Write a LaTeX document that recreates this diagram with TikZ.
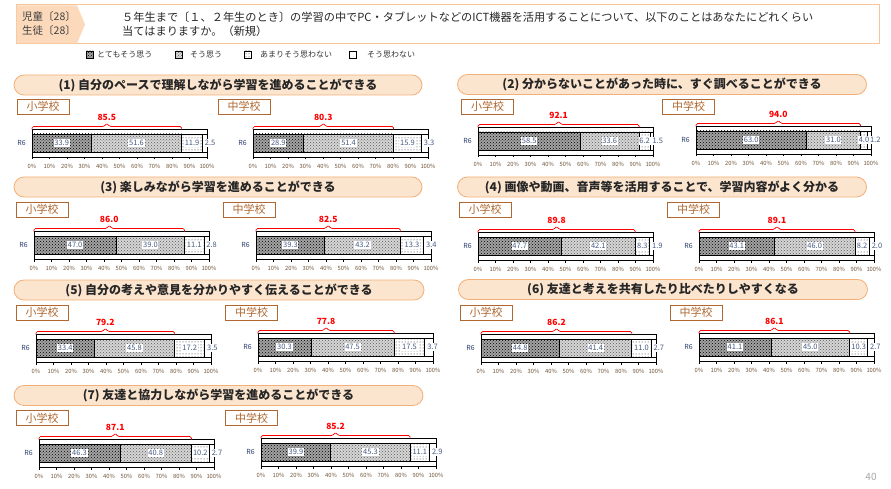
\documentclass[tikz,border=0pt]{standalone}
\usepackage{fontspec}
\setmainfont{Noto Sans CJK JP}
\usepackage{tikz}
\usetikzlibrary{patterns}
\definecolor{hdrFill}{RGB}{251,217,186}
\definecolor{hdrLine}{RGB}{248,196,150}
\definecolor{pillFill}{RGB}{252,229,206}
\definecolor{pillLine}{RGB}{243,175,120}
\definecolor{schoolBrown}{RGB}{176,104,48}
\definecolor{valBlue}{RGB}{70,90,130}
\definecolor{rowNavy}{RGB}{40,60,110}
\definecolor{axisBrown}{RGB}{110,82,55}
\definecolor{totalRed}{RGB}{255,0,0}
% one stacked bar: id, x0, y0, four shares, total of the first two
\newcommand{\ratebar}[8]{%
  \pgfmathsetmacro{\rbA}{#2+#4*1.75}
  \pgfmathsetmacro{\rbB}{#2+(#4+#5)*1.75}
  \pgfmathsetmacro{\rbC}{#2+(#4+#5+#6)*1.75}
  \pgfmathsetmacro{\rbM}{(#2+\rbB)/2}
  \pgfmathsetmacro{\rbE}{#2+175}
  \pgfmathsetmacro{\rbY}{#3+14}
  \draw[plotframe] (#2,#3) rectangle (\rbE,#3+28);
  \draw[segA] (#2,#3+5) rectangle (\rbA,#3+23);
  \draw[segB] (\rbA,#3+5) rectangle (\rbB,#3+23);
  \draw[segC] (\rbB,#3+5) rectangle (\rbC,#3+23);
  \draw[segD] (\rbC,#3+5) rectangle (\rbE,#3+23);
  \foreach \t in {0,...,10} {
    \pgfmathtruncatemacro{\pc}{\t*10}
    \draw[plotframe] (#2+\t*17.5,#3+28) -- ++(0,2.5);
    \node[axislbl] (#1-t\t) at (#2+\t*17.5,#3+37) {\pc\%};
  }
  \node[rowlbl] (#1-row) at (#2-10.5,\rbY) {R6};
  \node[vallbl] (#1-a) at ({(#2+\rbA)/2},\rbY) {#4};
  \node[vallbl] (#1-b) at ({(\rbA+\rbB)/2},\rbY) {#5};
  \node[vallbl] (#1-c) at ({(\rbB+\rbC)/2},\rbY) {#6};
  \node[vallbl, anchor=west] (#1-d) at (\rbC+1.5,\rbY) {#7};
  \draw[bracket] (#2,#3+0.5) -- (#2,#3-2.5) -- (\rbM-2.5,#3-2.5) -- (\rbM,#3-6)
    -- (\rbM+2.5,#3-2.5) -- (\rbB,#3-2.5) -- (\rbB,#3+0.5);
  \node[totallbl] (#1-tot) at (\rbM,#3-12) {#8};
}

\begin{document}
\begin{tikzpicture}[x=1pt, y=-1pt,
    plotframe/.style={draw=black, line width=0.6pt},
    segA/.style={line width=0.8pt, preaction={fill=gray!72}, pattern=crosshatch dots, pattern color=black},
    segB/.style={line width=0.8pt, preaction={fill=gray!32}, pattern=crosshatch dots, pattern color=black!65},
    segC/.style={line width=0.8pt, preaction={fill=white}, pattern=dots, pattern color=black!85},
    segD/.style={line width=0.8pt, fill=white},
    axislbl/.style={text=axisBrown, inner sep=0pt, font=\fontsize{5.8}{6}\selectfont},
    rowlbl/.style={text=rowNavy, inner sep=0pt, font=\fontsize{7}{8}\selectfont},
    vallbl/.style={text=valBlue, fill=white, inner sep=0.8pt, font=\fontsize{7.5}{8}\selectfont},
    totallbl/.style={text=totalRed, inner sep=0pt, font=\bfseries\fontsize{8.5}{9}\selectfont},
    bracket/.style={draw=totalRed, line width=0.7pt, rounded corners=1.5pt},
    pill/.style={draw=pillLine, fill=pillFill, line width=0.8pt, rounded corners=10pt,
      minimum height=20, inner sep=0pt, text=black!85, font=\bfseries\fontsize{12}{14}\selectfont},
    schoolbox/.style={draw=schoolBrown, line width=0.8pt, fill=white, text=schoolBrown,
      minimum width=52, minimum height=15, inner sep=0pt, font=\fontsize{11}{12}\selectfont},
    legendtxt/.style={anchor=west, inner sep=0pt, text=black!80, font=\fontsize{8}{9}\selectfont}]
  \useasboundingbox (0,0) rectangle (891,489);

  % header
  \draw[hdrLine, line width=1pt, fill=white] (16,5) rectangle (879,44);
  \fill[hdrFill] (16.5,5.5) -- (77,5.5) -- (85,24.5) -- (77,43.5) -- (16.5,43.5) -- cycle;
  \node[anchor=west, inner sep=0pt, text=black!75, font=\fontsize{10.5}{12}\selectfont] (pupils) at (22,17) {児童〔28〕};
  \node[anchor=west, inner sep=0pt, text=black!75, font=\fontsize{10.5}{12}\selectfont] (students) at (22,31) {生徒〔28〕};
  \node[anchor=west, inner sep=0pt, text=black!85, font=\fontsize{11.2}{13}\selectfont] (ask1) at (122,17)
    {５年生まで〔１、２年生のとき〕の学習の中でPC・タブレットなどのICT機器を活用することについて、以下のことはあなたにどれくらい};
  \node[anchor=west, inner sep=0pt, text=black!85, font=\fontsize{11.2}{13}\selectfont] (ask2) at (122,31)
    {当てはまりますか。（新規）};

  % legend
  \draw[segA] (86,51) rectangle ++(7,7);
  \node[legendtxt] (lg1) at (97,54.5) {とてもそう思う};
  \draw[segB] (175,51) rectangle ++(7,7);
  \node[legendtxt] (lg2) at (190,54.5) {そう思う};
  \draw[segC] (244,51) rectangle ++(7,7);
  \node[legendtxt] (lg3) at (260,54.5) {あまりそう思わない};
  \draw[segD] (349,51) rectangle ++(7,7);
  \node[legendtxt] (lg4) at (367,54.5) {そう思わない};

  % titles
  \node[pill, minimum width=408] (q1) at (218,85) {(1) 自分のペースで理解しながら学習を進めることができる};
  \node[pill, minimum width=409] (q2) at (662,84.5) {(2) 分からないことがあった時に、すぐ調べることができる};
  \node[pill, minimum width=408] (q3) at (218,187) {(3) 楽しみながら学習を進めることができる};
  \node[pill, minimum width=409] (q4) at (662,187) {(4) 画像や動画、音声等を活用することで、学習内容がよく分かる};
  \node[pill, minimum width=410] (q5) at (219,290) {(5) 自分の考えや意見を分かりやすく伝えることができる};
  \node[pill, minimum width=409] (q6) at (663,289.5) {(6) 友達と考えを共有したり比べたりしやすくなる};
  \node[pill, minimum width=409] (q7) at (218.5,395.5) {(7) 友達と協力しながら学習を進めることができる};

  % school labels
  \node[schoolbox] (q1e) at (43,106.5) {小学校};
  \node[schoolbox] (q1j) at (244,106.5) {中学校};
  \node[schoolbox] (q2e) at (487.5,106.5) {小学校};
  \node[schoolbox] (q2j) at (688.5,106.5) {中学校};
  \node[schoolbox] (q3e) at (42,209.5) {小学校};
  \node[schoolbox] (q3j) at (249,209.5) {中学校};
  \node[schoolbox] (q4e) at (485,209.5) {小学校};
  \node[schoolbox] (q4j) at (693.5,209.5) {中学校};
  \node[schoolbox] (q5e) at (42,312.5) {小学校};
  \node[schoolbox] (q5j) at (251.5,312.5) {中学校};
  \node[schoolbox] (q6e) at (486,312.5) {小学校};
  \node[schoolbox] (q6j) at (696,312.5) {中学校};
  \node[schoolbox] (q7e) at (42,418) {小学校};
  \node[schoolbox] (q7j) at (251.5,418) {中学校};

  % bars
  \ratebar{b1e}{32}{129}{33.9}{51.6}{11.9}{2.5}{85.5}
  \ratebar{b1j}{253}{129}{28.9}{51.4}{15.9}{3.3}{80.3}
  \ratebar{b2e}{478}{127}{58.5}{33.6}{6.2}{1.5}{92.1}
  \ratebar{b2j}{696}{126}{63.0}{31.0}{4.0}{1.2}{94.0}
  \ratebar{b3e}{34}{231}{47.0}{39.0}{11.1}{2.8}{86.0}
  \ratebar{b3j}{256}{231}{39.3}{43.2}{13.3}{3.4}{82.5}
  \ratebar{b4e}{478}{232}{47.7}{42.1}{8.3}{1.9}{89.8}
  \ratebar{b4j}{699}{232}{43.1}{46.0}{8.2}{2.0}{89.1}
  \ratebar{b5e}{36}{334}{33.4}{45.8}{17.2}{3.5}{79.2}
  \ratebar{b5j}{258}{333}{30.3}{47.5}{17.5}{3.7}{77.8}
  \ratebar{b6e}{481}{334}{44.8}{41.4}{11.0}{2.7}{86.2}
  \ratebar{b6j}{699}{333}{41.1}{45.0}{10.3}{2.7}{86.1}
  \ratebar{b7e}{39}{439}{46.3}{40.8}{10.2}{2.7}{87.1}
  \ratebar{b7j}{261}{438}{39.9}{45.3}{11.1}{2.9}{85.2}

  \node[text=gray!70, inner sep=0pt, font=\fontsize{10}{12}\selectfont] (pageno) at (871,477) {40};
\end{tikzpicture}
\end{document}
